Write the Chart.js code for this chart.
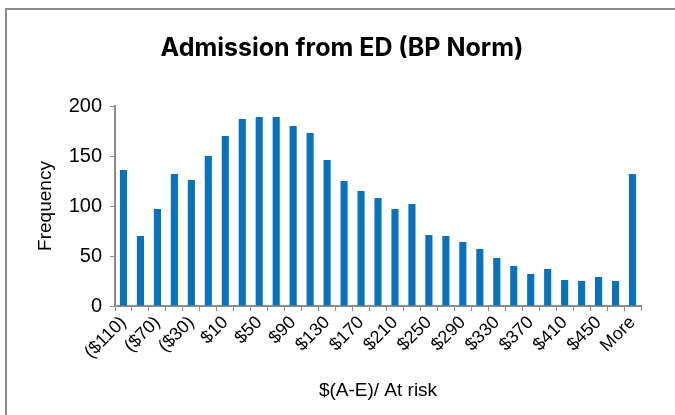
<!DOCTYPE html>
<html>
<head>
<meta charset="utf-8">
<script src="https://cdn.jsdelivr.net/npm/chart.js@4/dist/chart.umd.min.js"></script>
<style>
  html, body { margin: 0; padding: 0; background: #fff; }
  #wrap { position: relative; width: 675px; height: 415px; }
  #frame { position: absolute; left: 5px; top: 8px; right: 0; bottom: 0;
           border-left: 2px solid #8c8c8c; border-top: 2px solid #8c8c8c; }
  canvas { position: absolute; left: 0; top: 0; }
</style>
</head>
<body>
<div id="wrap">
  <div id="frame"></div>
  <canvas id="histChart" width="675" height="415"></canvas>
</div>
<script>
// Bins del histograma (limite superior de cada bin)
const bins = ["($110)", "($90)", "($70)", "($50)", "($30)", "($10)", "$10", "$30", "$50", "$70",
              "$90", "$110", "$130", "$150", "$170", "$190", "$210", "$230", "$250", "$270",
              "$290", "$310", "$330", "$350", "$370", "$390", "$410", "$430", "$450", "$470", "More"];

// Frecuencia de cada bin
const frequency = [136, 70, 97, 132, 126, 150, 170, 187, 189, 189,
                   180, 173, 146, 125, 115, 108, 97, 102, 71, 70,
                   64, 57, 48, 40, 32, 37, 26, 25, 29, 25, 132];

const yTicks = [0, 50, 100, 150, 200];

const axisGray = "#8c8c8c";

function drawChart() {
    const ctx = document.getElementById("histChart").getContext("2d");

    new Chart(ctx, {
        type: "bar",
        data: {
            labels: bins,
            datasets: [{
                label: "Frequency",
                data: frequency,
                backgroundColor: "#0b71b8",
                borderWidth: 0,
                barPercentage: 0.42,
                categoryPercentage: 1
            }]
        },
        options: {
            responsive: false,
            animation: false,
            // padding izquierdo para centrar el titulo como en el original
            layout: { padding: { left: 43, right: 34, top: 0, bottom: 0 } },
            plugins: {
                legend: { display: false },
                tooltip: { enabled: false },
                title: {
                    display: true,
                    text: "Admission from ED (BP Norm)",
                    color: "#000",
                    font: { family: "Inter", size: 25, weight: "bold" },
                    padding: { top: 33, bottom: 43 }
                }
            },
            scales: {
                x: {
                    grid: {
                        display: true,
                        drawOnChartArea: false,
                        drawTicks: true,
                        tickLength: 5,
                        color: axisGray,
                        offset: true
                    },
                    border: { display: true, color: axisGray, width: 2 },
                    ticks: {
                        autoSkip: false,
                        maxRotation: 45,
                        minRotation: 45,
                        color: "#000",
                        padding: 1,
                        font: { family: "Liberation Sans", size: 18 },
                        callback: function (value, index) {
                            return index % 2 === 0 || index === bins.length - 1 ? bins[index] : "";
                        }
                    },
                    title: {
                        display: true,
                        text: "$(A-E)/ At risk",
                        color: "#000",
                        font: { family: "Liberation Sans", size: 19 },
                        padding: { top: 0, bottom: 13 }
                    },
                    afterFit: function (scale) { scale.height = 109; }
                },
                y: {
                    min: 0,
                    max: 200,
                    afterBuildTicks: function (scale) {
                        scale.ticks = yTicks.map(v => ({ value: v }));
                    },
                    grid: {
                        display: true,
                        drawOnChartArea: false,
                        drawTicks: true,
                        tickLength: 5,
                        color: axisGray
                    },
                    border: { display: true, color: axisGray, width: 2 },
                    ticks: {
                        color: "#000",
                        padding: 8,
                        font: { family: "Liberation Sans", size: 20 }
                    },
                    title: {
                        display: true,
                        text: "Frequency",
                        color: "#000",
                        font: { family: "Liberation Sans", size: 19 },
                        padding: { top: -9, bottom: 0 }
                    },
                    afterFit: function (scale) { scale.width = 72; }
                }
            }
        }
    });
}

// Esperar a que la fuente del titulo este cargada antes de dibujar
document.fonts.load("bold 25px Inter").then(drawChart, drawChart);
</script>
</body>
</html>
